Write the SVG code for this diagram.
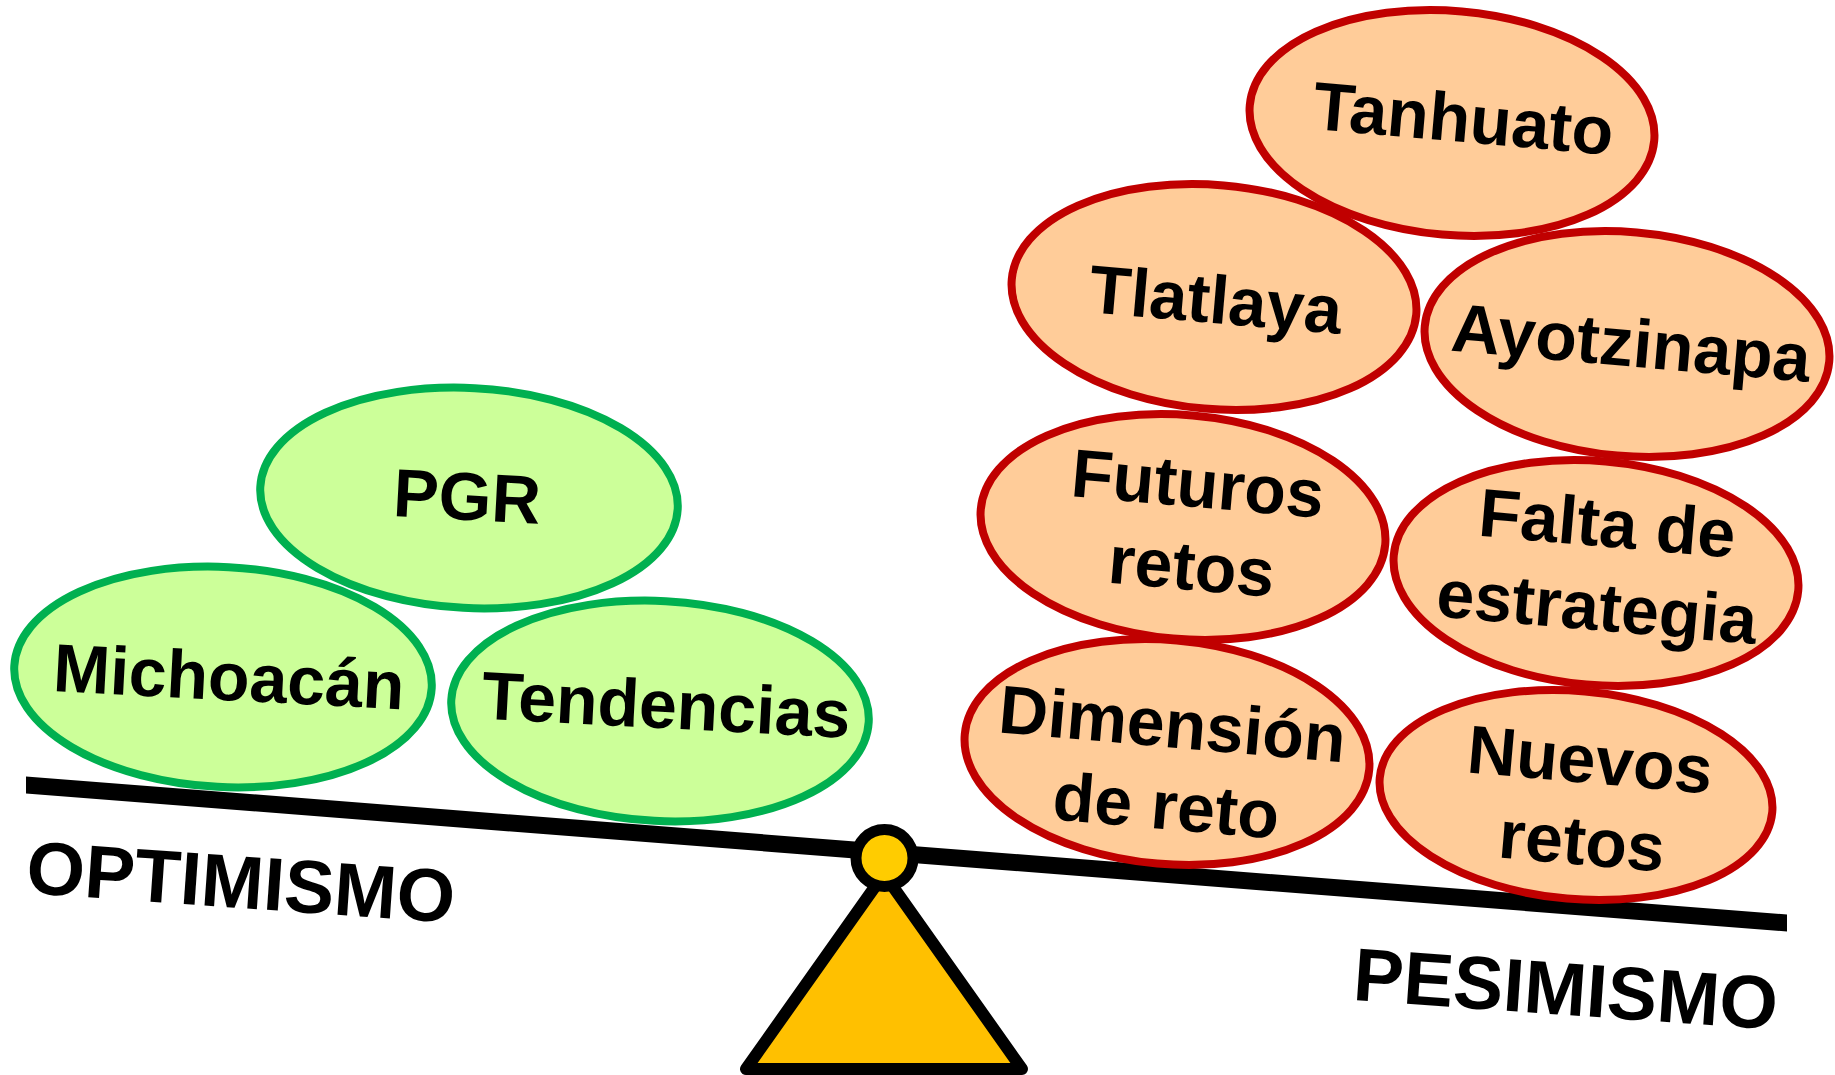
<svg xmlns="http://www.w3.org/2000/svg" width="1835" height="1075" viewBox="0 0 1835 1075">
<style>
.opt{fill:#CCFF99;stroke:#00B050;stroke-width:8}
.pes{fill:#FFCC99;stroke:#C00000;stroke-width:8}
.t{font-family:"Liberation Sans",Arial,sans-serif;font-weight:bold;font-size:68px;fill:#000;text-anchor:middle}
.lbl{font-family:"Liberation Sans",Arial,sans-serif;font-weight:bold;font-size:75px;fill:#000}
</style>
<rect width="1835" height="1075" fill="#fff"/>
<g id="fulcrum-base">
<path d="M884 874 L746 1069 L1022 1069 Z" fill="#FFC000" stroke="#000" stroke-width="12" stroke-linejoin="round"/>
</g>
<g id="connectors">
<polygon id="beam" points="26,776.5 1787,914.5 1787,931.5 26,793.5" fill="#000"/>
</g>
<g id="pivot">
<circle cx="884.5" cy="858" r="28.5" fill="#FFCC00" stroke="#000" stroke-width="11"/>
</g>
<g id="node-pgr" transform="translate(469,498) rotate(3)">
<ellipse class="opt" rx="209" ry="110"/>
<text class="t" x="-2" y="22">PGR</text>
</g>
<g id="node-michoacan" transform="translate(223,677) rotate(3)">
<ellipse class="opt" rx="209" ry="110"/>
<text class="t" x="6" y="23">Michoacán</text>
</g>
<g id="node-tendencias" transform="translate(660,711) rotate(3)">
<ellipse class="opt" rx="209" ry="110"/>
<text class="t" x="6" y="17">Tendencias</text>
</g>
<g id="node-tanhuato" transform="translate(1452,123) rotate(5)">
<ellipse class="pes" rx="203" ry="112"/>
<text class="t" x="11" y="18">Tanhuato</text>
</g>
<g id="node-tlatlaya" transform="translate(1214,297) rotate(5)">
<ellipse class="pes" rx="203" ry="112"/>
<text class="t" x="2" y="26">Tlatlaya</text>
</g>
<g id="node-ayotzinapa" transform="translate(1627,344) rotate(5)">
<ellipse class="pes" rx="203" ry="112"/>
<text class="t" x="4" y="22">Ayotzinapa</text>
</g>
<g id="node-futuros" transform="translate(1183,527) rotate(5)">
<ellipse class="pes" rx="203" ry="112"/>
<text class="t" x="11" y="-21">Futuros</text>
<text class="t" x="12" y="62">retos</text>
</g>
<g id="node-falta" transform="translate(1596,573) rotate(5)">
<ellipse class="pes" rx="203" ry="112"/>
<text class="t" x="7" y="-27">Falta de</text>
<text class="t" x="4" y="57">estrategia</text>
</g>
<g id="node-dimension" transform="translate(1167,752) rotate(5)">
<ellipse class="pes" rx="203" ry="112"/>
<text class="t" x="3" y="-5">Dimensión</text>
<text class="t" x="4" y="77">de reto</text>
</g>
<g id="node-nuevos" transform="translate(1576,795) rotate(5)">
<ellipse class="pes" rx="197" ry="104"/>
<text class="t" x="11" y="-13">Nuevos</text>
<text class="t" x="10" y="69">retos</text>
</g>
<g id="label-optimismo">
<text class="lbl" x="25" y="893" transform="rotate(4,25,893)">OPTIMISMO</text>
</g>
<g id="label-pesimismo">
<text class="lbl" x="1352" y="1000" font-size="76" transform="rotate(4,1352,1000)">PESIMISMO</text>
</g>
</svg>
